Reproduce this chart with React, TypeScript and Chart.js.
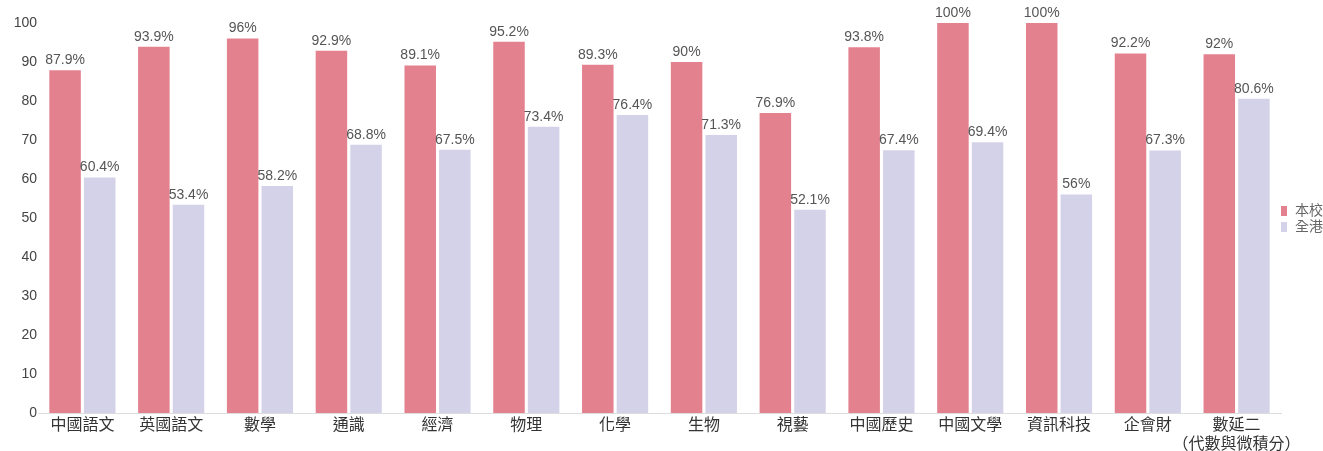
import React, { useEffect, useRef } from "react";
import { Chart, registerables } from "chart.js";

Chart.register(...registerables);

const categories: (string | string[])[] = [
  "中國語文", "英國語文", "數學", "通識", "經濟", "物理", "化學", "生物", "視藝",
  "中國歷史", "中國文學", "資訊科技", "企會財", ["數延二", "（代數與微積分）"],
];
const schoolValues = [87.9, 93.9, 96, 92.9, 89.1, 95.2, 89.3, 90, 76.9, 93.8, 100, 100, 92.2, 92];
const hkValues = [60.4, 53.4, 58.2, 68.8, 67.5, 73.4, 76.4, 71.3, 52.1, 67.4, 69.4, 56, 67.3, 80.6];
const seriesNames = ["本校", "全港"];
const seriesColors = ["#e4818f", "#d4d2e8"];

const FONT = "'Liberation Sans', 'Noto Sans CJK TC', sans-serif";

const valueLabels = {
  id: "valueLabels",
  afterDatasetsDraw(chart: any) {
    const ctx = chart.ctx;
    ctx.save();
    ctx.font = `14px ${FONT}`;
    ctx.fillStyle = "#555";
    ctx.textAlign = "center";
    ctx.textBaseline = "bottom";
    chart.data.datasets.forEach((ds: any, di: number) => {
      const meta = chart.getDatasetMeta(di);
      meta.data.forEach((bar: any, i: number) => {
        ctx.fillText(`${ds.data[i]}%`, bar.x, bar.y - 3);
      });
    });
    ctx.restore();
  },
};

const customLegend = {
  id: "customLegend",
  afterDraw(chart: any) {
    const ctx = chart.ctx;
    ctx.save();
    ctx.font = `14px ${FONT}`;
    ctx.textBaseline = "middle";
    ctx.textAlign = "left";
    const x = chart.chartArea.right;
    const y0 = 211;
    chart.data.datasets.forEach((ds: any, i: number) => {
      const y = y0 + i * 16;
      ctx.fillStyle = ds.backgroundColor;
      ctx.fillRect(x, y - 5, 6, 10);
      ctx.fillStyle = "#666";
      ctx.fillText(ds.label, x + 14, y);
    });
    ctx.restore();
  },
};

export default function App() {
  const ref = useRef<HTMLCanvasElement>(null);
  useEffect(() => {
    document.body.style.margin = "0";
    const chart = new Chart(ref.current!, {
      type: "bar",
      data: {
        labels: categories,
        datasets: [
          { label: seriesNames[0], data: schoolValues, backgroundColor: seriesColors[0] },
          { label: seriesNames[1], data: hkValues, backgroundColor: seriesColors[1] },
        ],
      },
      options: {
        animation: false,
        responsive: false,
        layout: { padding: { top: 23, right: 42, left: 0, bottom: 0 } },
        datasets: { bar: { categoryPercentage: 0.78, barPercentage: 0.91 } },
        plugins: { legend: { display: false }, tooltip: { enabled: false } },
        scales: {
          x: {
            grid: { display: false, drawTicks: false },
            border: { display: true, color: "#ddd", dash: [2, 2] },
            ticks: { color: "#333", font: { family: FONT, size: 16 }, padding: 3, maxRotation: 0, autoSkip: false },
            afterFit: (s: any) => { s.height = 38; },
          },
          y: {
            min: 0,
            max: 100,
            grid: { display: false, drawTicks: false },
            border: { display: false },
            ticks: { stepSize: 10, color: "#444", font: { family: FONT, size: 14 }, padding: 1 },
            afterFit: (s: any) => { s.width = 38; },
          },
        },
      },
      plugins: [valueLabels, customLegend],
    });
    return () => chart.destroy();
  }, []);
  return (
    <div style={{ width: 1323, height: 451 }}>
      <canvas ref={ref} width={1323} height={451} />
    </div>
  );
}
